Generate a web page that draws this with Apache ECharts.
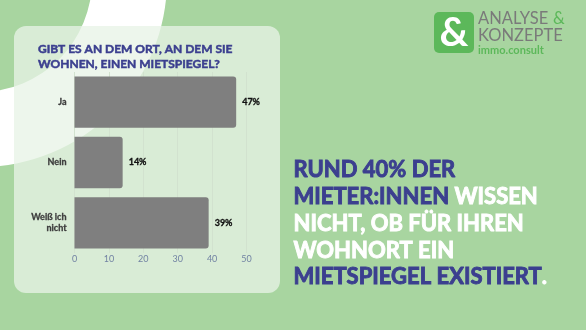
<!DOCTYPE html>
<html><head><meta charset="utf-8">
<script src="https://cdn.jsdelivr.net/npm/echarts@6/dist/echarts.min.js"></script>
<style>html,body{margin:0;padding:0;background:#a8d5a0}#c{width:586px;height:330px}</style>
</head><body><div id="c"></div>
<script>
const categories = ['Ja', 'Nein', 'Weiß ich\nnicht'];
const values = [47, 14, 39];
const xTicks = [0, 10, 20, 30, 40, 50];
const questionTitle = 'GIBT ES AN DEM ORT, AN DEM SIE\nWOHNEN, EINEN MIETSPIEGEL?';

const blue = '#3b3f8f';
const chart = echarts.init(document.getElementById('c'), null, {renderer: 'canvas'});
chart.setOption({
  backgroundColor: '#a8d5a0',
  textStyle: {fontFamily: 'Lato'},
  title: {
    text: questionTitle, left: 33, top: 37,
    textStyle: {fontFamily: 'Lato', fontSize: 12, fontWeight: 'bold', color: blue, lineHeight: 14.5,
      textBorderColor: blue, textBorderWidth: 0.5}
  },
  grid: {left: 74.5, right: 339.5, top: 72, bottom: 77, containLabel: false},
  xAxis: {
    type: 'value', min: xTicks[0], max: xTicks[xTicks.length - 1], interval: 10,
    axisLine: {show: false}, axisTick: {show: false},
    axisLabel: {color: '#7283a3', fontSize: 9, margin: 2, fontFamily: 'Lato'},
    splitLine: {show: true, lineStyle: {color: '#d2e2cf', width: 1}}
  },
  yAxis: {
    type: 'category', data: categories, inverse: true,
    axisLine: {show: false}, axisTick: {show: false},
    axisLabel: {color: '#3d3d3d', fontSize: 9, fontWeight: 'bold', margin: 8, lineHeight: 11, fontFamily: 'Lato',
      textBorderColor: '#3d3d3d', textBorderWidth: 0.3}
  },
  series: [{
    type: 'bar', data: values, barCategoryGap: '15%',
    itemStyle: {color: '#7f7f7f', borderRadius: [0, 3, 3, 0]},
    label: {show: true, position: 'right', distance: 6, formatter: '{c}%', fontSize: 9, fontWeight: 'bold', color: '#111', fontFamily: 'Lato',
      textBorderColor: '#111', textBorderWidth: 0.3}
  }],
  graphic: [
    {type: 'ring', z: -20, silent: true, shape: {cx: -20, cy: -20, r: 187, r0: 112}, style: {fill: '#ffffff'}},
    {type: 'rect', z: -10, silent: true, shape: {x: 14, y: 26, width: 266, height: 267, r: 12}, style: {fill: 'rgba(232,243,230,0.77)'}},
    {type: 'text', left: 293, top: 157, z: 5, style: {
      text: '{b|RUND 40% DER}\n{b|MIETER:INNEN} {w|WISSEN}\n{w|NICHT, OB FÜR IHREN}\n{w|WOHNORT EIN}\n{b|MIETSPIEGEL EXISTIERT}{w|.}',
      fontFamily: 'Lato', fontSize: 22, fontWeight: 'bold', lineHeight: 26.7,
      rich: {
        b: {fill: blue, fontFamily: 'Lato', fontSize: 22, fontWeight: 'bold', lineHeight: 26.7, stroke: blue, lineWidth: 0.9},
        w: {fill: '#ffffff', fontFamily: 'Lato', fontSize: 22, fontWeight: 'bold', lineHeight: 26.7, stroke: '#ffffff', lineWidth: 0.9}
      }
    }},
    {type: 'rect', z: 5, shape: {x: 434, y: 12, width: 40, height: 41, r: 5}, style: {fill: '#5cb85a'}},
    {type: 'text', z: 6, x: 454, y: 33, style: {text: '&', fill: '#fff', fontFamily: 'Lato', fontSize: 40, fontWeight: 'bold', align: 'center', verticalAlign: 'middle'}},
    {type: 'text', z: 6, x: 478, y: 19, style: {text: 'ANALYSE', fill: '#7a7a7a', fontFamily: 'Lato', fontSize: 16.5, fontWeight: 'normal', verticalAlign: 'middle'}},
    {type: 'text', z: 6, x: 553, y: 19, style: {text: '&', fill: '#5cb85a', fontFamily: 'Lato', fontSize: 16.5, fontWeight: 'normal', verticalAlign: 'middle'}},
    {type: 'text', z: 6, x: 478, y: 36, style: {text: 'KONZEPTE', fill: '#7a7a7a', fontFamily: 'Lato', fontSize: 16.5, fontWeight: 'normal', verticalAlign: 'middle'}},
    {type: 'text', z: 6, x: 478, y: 50, style: {text: 'immo.consult', fill: '#5cb85a', fontFamily: 'Lato', fontSize: 11, fontWeight: 'bold', verticalAlign: 'middle'}}
  ]
});
</script></body></html>
